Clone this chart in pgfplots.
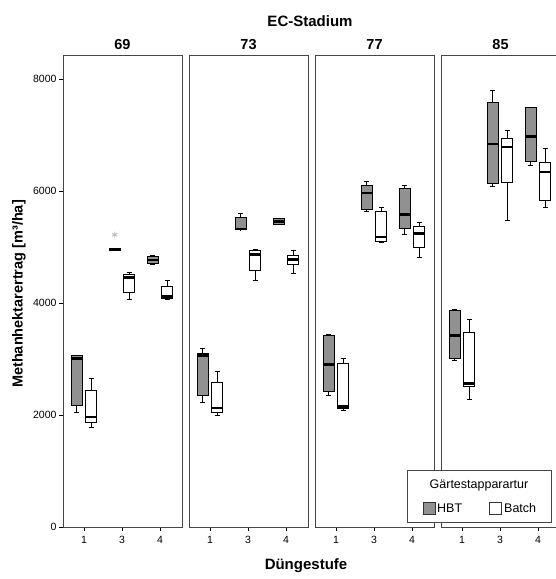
\documentclass[border=0pt]{standalone}
\usepackage{fontspec}
\setmainfont{Liberation Sans}
\usepackage{pgfplots}
\pgfplotsset{compat=1.18}
\definecolor{hbt}{RGB}{145,145,145}
\definecolor{frame}{RGB}{70,70,70}
\pgfplotsset{
  panel/.style={
    anchor=south west,
    scale only axis,
    width=119pt, height=472pt,
    xmin=0.447, xmax=3.58,
    ymin=0, ymax=8430,
    xtick={1,2,3}, xticklabels={1,3,4},
    ytick={0,2000,4000,6000,8000},
    tick align=outside,
    tick pos=left,
    major tick length=4pt,
    every tick/.style={black, line width=0.8pt},
    axis line style={frame, line width=0.9pt},
    tick label style={font=\fontsize{10.5}{12}\selectfont},
    yticklabel style={xshift=1pt},
    xticklabel style={yshift=-2pt},
    /pgf/number format/assume math mode=true,
    /pgf/number format/set thousands separator={},
    title style={font=\bfseries\fontsize{14.5}{16}\selectfont, yshift=-4pt},
    clip=false,
  },
  noy/.style={yticklabels={}, ytick style={draw=none}},
}
% #1 fill, #2 position, #3 lower whisker, #4 lower quartile, #5 median, #6 upper quartile, #7 upper whisker
\newcommand\BX[7]{%
  \pgfmathsetmacro\bxL{#2-0.145}\pgfmathsetmacro\bxR{#2+0.145}%
  \pgfmathsetmacro\bcL{#2-0.07}\pgfmathsetmacro\bcR{#2+0.07}%
  \addplot[forget plot, mark=none, draw=black, line width=0.9pt] coordinates {(#2,#3) (#2,#4)};
  \addplot[forget plot, mark=none, draw=black, line width=0.9pt] coordinates {(#2,#6) (#2,#7)};
  \addplot[forget plot, mark=none, draw=black, line width=1pt] coordinates {(\bcL,#3) (\bcR,#3)};
  \addplot[forget plot, mark=none, draw=black, line width=1pt] coordinates {(\bcL,#7) (\bcR,#7)};
  \addplot[forget plot, mark=none, draw=black, fill=#1, line width=0.8pt] coordinates {(\bxL,#4) (\bxR,#4) (\bxR,#6) (\bxL,#6)} --cycle;
  \addplot[forget plot, mark=none, draw=black, line width=2.4pt] coordinates {(\bxL,#5) (\bxR,#5)};
}
\begin{document}
\begin{tikzpicture}
\path[use as bounding box] (0pt,0pt) rectangle (556pt,579pt);
% ---------- 69 ----------
\begin{axis}[panel, at={(63pt,52pt)}, title={69}]
\BX{hbt}{0.81}{2050}{2180}{3010}{3060}{3070}
\BX{white}{1.19}{1770}{1870}{1960}{2440}{2650}
\BX{hbt}{1.81}{4945}{4948}{4958}{4968}{4972}
\BX{white}{2.19}{4070}{4195}{4455}{4520}{4550}
\BX{hbt}{2.81}{4690}{4700}{4770}{4840}{4850}
\BX{white}{3.19}{4060}{4075}{4115}{4295}{4405}
\addplot[only marks, mark=asterisk, mark size=3pt, color=gray!55, mark options={line width=0.9pt}] coordinates {(1.81,5220)};
\end{axis}
% ---------- 73 ----------
\begin{axis}[panel, noy, at={(189pt,52pt)}, title={73}]
\BX{hbt}{0.81}{2225}{2350}{3060}{3095}{3185}
\BX{white}{1.19}{1995}{2045}{2120}{2590}{2785}
\BX{hbt}{1.81}{5305}{5310}{5325}{5535}{5595}
\BX{white}{2.19}{4405}{4575}{4865}{4935}{4950}
\BX{hbt}{2.81}{5400}{5405}{5455}{5505}{5510}
\BX{white}{3.19}{4520}{4685}{4775}{4845}{4945}
\end{axis}
% ---------- 77 ----------
\begin{axis}[panel, noy, at={(315pt,52pt)}, title={77}]
\BX{hbt}{0.81}{2345}{2420}{2900}{3425}{3440}
\BX{white}{1.19}{2075}{2125}{2155}{2930}{3005}
\BX{hbt}{1.81}{5630}{5680}{5965}{6095}{6170}
\BX{white}{2.19}{5090}{5105}{5180}{5630}{5710}
\BX{hbt}{2.81}{5220}{5325}{5580}{6055}{6100}
\BX{white}{3.19}{4820}{5000}{5245}{5370}{5430}
\end{axis}
% ---------- 85 ----------
\begin{axis}[panel, noy, at={(441pt,52pt)}, title={85}]
\BX{hbt}{0.81}{2975}{3005}{3420}{3865}{3880}
\BX{white}{1.19}{2285}{2510}{2560}{3475}{3700}
\BX{hbt}{1.81}{6075}{6130}{6840}{7585}{7790}
\BX{white}{2.19}{5480}{6160}{6785}{6935}{7090}
\BX{hbt}{2.81}{6465}{6530}{6975}{7490}{7500}
\BX{white}{3.19}{5705}{5840}{6340}{6510}{6755}
\end{axis}
% ---------- labels ----------
\node[font=\bfseries\fontsize{15}{17}\selectfont] at (310pt,558pt) {EC-Stadium};
\node[font=\bfseries\fontsize{15}{17}\selectfont] at (306pt,13pt) {Düngestufe};
\node[font=\bfseries\fontsize{14.5}{16}\selectfont, rotate=90] at (19pt,285pt) {Methanhektarertrag [m³/ha]};
% ---------- legend ----------
\draw[frame, line width=0.8pt, fill=white] (407pt,57pt) rectangle (551pt,109pt);
\node[font=\fontsize{12.5}{14}\selectfont] at (479pt,94pt) {Gärtestapparartur};
\draw[black!80, fill=hbt, line width=0.7pt] (423pt,65pt) rectangle (435pt,77pt);
\node[font=\fontsize{12.5}{14}\selectfont, anchor=west, inner sep=0pt] at (437pt,71pt) {HBT};
\draw[black!80, fill=white, line width=0.7pt] (489pt,65pt) rectangle (501pt,77pt);
\node[font=\fontsize{12.5}{14}\selectfont, anchor=west, inner sep=0pt] at (504pt,71pt) {Batch};
\end{tikzpicture}
\end{document}
